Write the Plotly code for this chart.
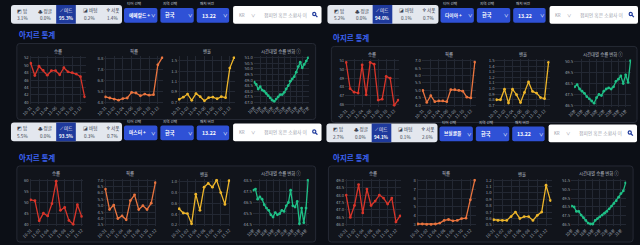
import plotly.graph_objects as go

W, H = 640, 245

# ---------------- data ----------------
dates = ["10-31", "11-01", "11-02", "11-03", "11-04", "11-05", "11-06",
         "11-07", "11-08", "11-09", "11-10", "11-11", "11-12", "11-13"]
minutes = ["10분", "11분", "12분", "13분", "14분", "15분", "16분", "17분", "18분", "19분",
           "20분", "21분", "22분", "23분", "24분", "25분", "26분", "27분", "28분", "29분",
           "30분", "31분", "32분", "33분", "34분", "35분", "36분", "37분"]

roles = ["탑", "정글", "미드", "바텀", "서폿"]
role_icons = ["◩", "♣", "⟋", "◪", "♆"]
chart_titles = ["승률", "픽률", "밴율", "시간대별 승률 변화 ⓘ"]
select_labels = ["티어 선택", "지역 선택", "패치 버전"]
page_title = "아지르 통계"
region = "한국"
patch = "13.22"
server = "KR"
search_placeholder = "챔피언 혹은 소환사 이"

tiers = ["에메랄드 +", "다이아 +", "마스터 +", "브실골플"]
role_shares = [
    ["3.1%", "0.0%", "95.3%", "0.2%", "1.4%"],
    ["5.2%", "0.0%", "94.0%", "0.1%", "0.7%"],
    ["5.5%", "0.0%", "93.5%", "0.3%", "0.7%"],
    ["2.7%", "0.0%", "94.1%", "0.1%", "2.6%"],
]

# panel 1 (emerald+)
p1_win = [50.5, 47.2, 49.7, 48.6, 47.3, 48.5, 48.5, 47.4, 49.3, 48.2, 48.0, 47.6, 46.9, 41.5]
p1_pick = [5.3, 5.2, 5.1, 5.0, 5.15, 5.2, 5.7, 5.65, 5.4, 5.55, 5.45, 5.5, 8.2, 8.85]
p1_ban = [0.76, 0.80, 0.86, 0.74, 0.87, 0.81, 0.73, 0.79, 0.80, 0.77, 0.81, 0.79, 1.36, 1.56]
p1_time = [48.8, 48.6, 48.2, 48.4, 48.1, 48.0, 47.8, 47.6, 47.4, 47.2, 47.1, 47.3, 47.5, 47.7,
           47.7, 47.9, 48.2, 48.5, 48.9, 49.1, 49.3, 49.7, 50.2, 50.6, 50.1, 50.4, 50.7, 51.0]
# panel 2 (diamond+)
p2_win = [50.8, 47.8, 47.4, 47.3, 50.5, 47.1, 50.8, 50.6, 46.5, 46.6, 49.2, 49.0, 45.9, 46.5]
p2_pick = [5.0, 4.2, 4.65, 4.25, 4.3, 4.3, 4.25, 5.05, 5.05, 5.0, 4.95, 4.55, 4.5, 6.9]
p2_ban = [0.8, 0.8, 0.99, 0.74, 0.99, 0.89, 0.75, 0.93, 1.12, 0.95, 0.92, 0.84, 0.82, 1.47]
p2_time = [48.2, 48.4, 48.0, 47.8, 47.6, 47.3, 47.1, 46.9, 46.7, 47.2, 47.5, 47.4, 47.8, 48.0,
           48.1, 48.0, 48.2, 48.7, 48.9, 49.2, 48.5, 49.3, 48.6, 50.6]
# panel 3 (master+)
p3_win = [51.2, 50.8, 41.8, 45.2, 44.0, 49.5, 59.5, 46.5, 47.8, 42.0, 40.3, 49.0, 43.8]
p3_pick = [6.3, 4.7, 5.05, 4.0, 4.2, 3.9, 5.4, 5.85, 4.7, 5.0, 4.7, 5.2, 6.8]
p3_ban = [0.5, 0.42, 0.41, 0.22, 0.77, 0.47, 0.9, 0.97, 0.9, 1.03, 0.8, 0.58, 1.02]
p3_time = [47.6, 47.7, 46.8, 47.0, 46.8, 46.3, 46.0, 45.8, 45.4, 45.2, 45.6, 45.4, 45.5,
           45.8, 45.7, 46.2, 46.5, 47.6, 46.2, 46.1, 46.6, 44.6, 46.0, 44.7, 46.0, 48.5]
# panel 4
p4_win = [48.0, 46.5, 47.3, 48.7, 46.8, 48.4, 47.3, 47.6, 48.0, 47.8, 47.4, 47.8, 46.2, 46.6]
p4_pick = [3.1, 3.1, 3.05, 3.05, 3.1, 3.2, 3.5, 3.6, 3.45, 3.5, 3.7, 3.75, 5.8, 8.0]
p4_ban = [0.58, 0.57, 0.57, 0.57, 0.63, 0.70, 0.60, 0.63, 0.63, 0.57, 0.65, 0.70, 1.12, 0.88]
p4_time = [48.6, 48.5, 48.0, 48.0, 47.6, 47.3, 47.0, 46.7, 46.6, 46.6, 47.0, 47.2, 47.4, 47.6,
           47.8, 48.0, 48.3, 48.6, 48.9, 49.2, 49.6, 50.0, 50.3, 51.2]

series = [
    [p1_win, p1_pick, p1_ban, p1_time],
    [p2_win, p2_pick, p2_ban, p2_time],
    [p3_win, p3_pick, p3_ban, p3_time],
    [p4_win, p4_pick, p4_ban, p4_time],
]
y_ticks = [
    [[40, 42, 44, 46, 48, 50, 52], [4.8, 5.8, 6.8, 7.8, 8.8], [0.7, 0.9, 1.1, 1.3, 1.5],
     [47.0, 47.5, 48.0, 48.5, 49.0, 49.5, 50.0, 50.5, 51.0]],
    [[46, 47, 48, 49, 50, 51], [4.0, 4.5, 5.0, 5.5, 6.0, 6.5, 7.0],
     [0.7, 0.8, 0.9, 1.0, 1.1, 1.2, 1.3, 1.4, 1.5], [46.5, 47.5, 48.5, 49.5, 50.5]],
    [[40, 45, 50, 55, 60], [3.5, 4.0, 4.5, 5.0, 5.5, 6.0, 6.5, 7.0], [0.2, 0.4, 0.6, 0.8, 1.0],
     [44.5, 45.5, 46.5, 47.5, 48.5]],
    [[46.0, 46.5, 47.0, 47.5, 48.0, 48.5, 49.0], [3, 4, 5, 6, 7, 8],
     [0.5, 0.6, 0.7, 0.8, 0.9, 1.0, 1.1, 1.2], [46.5, 47.5, 48.5, 49.5, 50.5, 51.5]],
]

# ---------------- styling / geometry ----------------
BG = "#0c0f16"
CARD = "#11141b"
CARD_LINE = "#262a35"
GRID = "#232833"
TICK = "#9ba1ad"
LINE_COLORS = ["#d8352a", "#e9743f", "#eeb62b", "#1fc087"]
FONT = "Noto Sans CJK KR"

panels = [
    dict(ox=0, hx=0, hy=3, by=0, card=(8, 312),
         plots=[(21, 78), (97, 157), (172, 230), (249, 305)]),
    dict(ox=320, hx=322, hy=3, by=3, card=(8, 319),
         plots=[(22, 77), (100, 155), (175, 230), (255, 313)]),
    dict(ox=0, hx=0, hy=122, by=124, card=(8, 312),
         plots=[(21, 75), (97, 150), (172, 225), (248, 305)]),
    dict(ox=320, hx=321, hy=123, by=124, card=(5, 315),
         plots=[(22, 79), (95, 155), (172, 232), (252, 308)]),
]
yfmt = [["d", ".1f", ".1f", ".1f"], ["d", ".1f", ".1f", ".1f"],
        ["d", ".1f", ".1f", ".1f"], [".1f", "d", ".1f", ".1f"]]


def fx(x):
    return x / W


def fy(y):
    return 1 - y / H


def rrect(x0, y0, x1, y1, r, fill, line=None, lw=0):
    X0, X1 = fx(x0), fx(x1)
    Y0, Y1 = fy(y0), fy(y1)
    rx, ry = r / W, r / H
    path = (f"M {X0+rx},{Y0} L {X1-rx},{Y0} Q {X1},{Y0} {X1},{Y0-ry} "
            f"L {X1},{Y1+ry} Q {X1},{Y1} {X1-rx},{Y1} L {X0+rx},{Y1} "
            f"Q {X0},{Y1} {X0},{Y1+ry} L {X0},{Y0-ry} Q {X0},{Y0} {X0+rx},{Y0} Z")
    return dict(type="path", path=path, xref="paper", yref="paper", fillcolor=fill,
                line=dict(color=line or fill, width=lw), layer="below")


def txt(x, y, s, size, color, anchor="center", bold=False):
    if bold:
        s = f"<b>{s}</b>"
    return dict(x=fx(x), y=fy(y), xref="paper", yref="paper", text=s, showarrow=False,
                xanchor=anchor, yanchor="middle", font=dict(size=size, color=color, family=FONT))


fig = go.Figure()
shapes, annotations = [], []
layout = dict(width=W, height=H, margin=dict(l=0, r=0, t=0, b=0), paper_bgcolor=BG,
              plot_bgcolor="rgba(0,0,0,0)", showlegend=False, font=dict(family=FONT))

ai = 0
for p, pan in enumerate(panels):
    ox, hx, hy, by = pan["ox"], pan["hx"], pan["hy"], pan["by"]

    # ---- header: role box
    shapes.append(rrect(hx + 2, hy, hx + 115, hy + 19, 3, "#e3e7ee"))
    shapes.append(dict(type="rect", xref="paper", yref="paper", x0=fx(hx + 48), x1=fx(hx + 68),
                       y0=fy(hy + 19), y1=fy(hy), fillcolor="#1f3a9c", line=dict(width=0),
                       layer="below"))
    centers = [14, 37, 58, 82, 105]
    for k, role in enumerate(roles):
        col = "#ffffff" if k == 2 else "#3c4352"
        annotations.append(txt(hx + centers[k], hy + 6, f"{role_icons[k]} {role}", 4.6, col))
        annotations.append(txt(hx + centers[k], hy + 13.5, role_shares[p][k], 4.6, col,
                               bold=(k == 2)))

    # ---- header: selects
    dd = [(117, 151), (154, 188), (191, 224)]
    vals = [tiers[p], region, patch]
    for k, (a, b) in enumerate(dd):
        annotations.append(txt(hx + a + 1, hy - 1, select_labels[k], 3.6, "#c9ced8", anchor="left"))
        shapes.append(rrect(hx + a, hy + 3, hx + b, hy + 18, 2, "#2f51d6"))
        annotations.append(txt(hx + a + 3, hy + 10.5, vals[k], 4.7 if k == 0 else 5.2,
                               "#ffffff", anchor="left", bold=True))
        annotations.append(txt(hx + b - 3.5, hy + 10.5, "∨", 4.5, "#ffffff"))

    # ---- header: search
    shapes.append(rrect(hx + 228, hy + 1, min(hx + 318, W), hy + 19, 2, "#ffffff"))
    annotations.append(txt(hx + 232, hy + 10, server, 4.4, "#9aa0aa", anchor="left"))
    annotations.append(txt(hx + 248, hy + 10, "∨", 4.4, "#9aa0aa"))
    annotations.append(txt(hx + 257, hy + 10, search_placeholder, 4.8, "#9aa0aa", anchor="left"))
    cx, cy = hx + 311, hy + 9.5
    shapes.append(dict(type="circle", xref="paper", yref="paper", x0=fx(cx - 2), x1=fx(cx + 1.2),
                       y0=fy(cy + 1.2), y1=fy(cy - 2), line=dict(color="#1f3a9c", width=1.2)))
    shapes.append(dict(type="line", xref="paper", yref="paper", x0=fx(cx + 0.8), x1=fx(cx + 2.8),
                       y0=fy(cy + 0.8), y1=fy(cy + 2.8), line=dict(color="#1f3a9c", width=1.3)))

    # ---- title + card
    annotations.append(txt(ox + 8, by + 33, page_title, 7.5, "#3b62f2", anchor="left", bold=True))
    c0, c1 = pan["card"]
    shapes.append(rrect(ox + c0, by + 42, ox + c1, by + 119, 3, CARD, CARD_LINE, 1))

    for c in range(4):
        ai += 1
        sfx = "" if ai == 1 else str(ai)
        data = series[p][c]
        n = len(data)
        if c < 3:
            xs = dates[:n]
            tv = dates[:n:2]
        else:
            xs = minutes[:n]
            tv = minutes[:n:3]
        col = LINE_COLORS[c]
        fig.add_trace(go.Scatter(x=xs, y=data, mode="lines+markers",
                                 line=dict(color=col, width=1.3),
                                 marker=dict(size=2.8, color=col),
                                 xaxis="x" + sfx, yaxis="y" + sfx, hoverinfo="skip"))
        a, b = pan["plots"][c]
        x0, x1 = ox + a, ox + b
        y0, y1 = by + 55, by + 103
        ticks = y_ticks[p][c]
        lo, hi = min(ticks + data), max(ticks + data)
        pad = (hi - lo) * 0.03
        layout["xaxis" + sfx] = dict(domain=[fx(x0), fx(x1)], anchor="y" + sfx, type="category",
                                     range=[-0.25, n - 0.75], tickvals=tv, tickangle=-45,
                                     tickfont=dict(size=4.2, color=TICK), showgrid=True,
                                     gridcolor=GRID, gridwidth=0.6, zeroline=False,
                                     showline=False, ticks="", fixedrange=True)
        layout["yaxis" + sfx] = dict(domain=[fy(y1), fy(y0)], anchor="x" + sfx,
                                     range=[lo - pad, hi + pad], tickvals=ticks,
                                     tickformat=yfmt[p][c],
                                     tickfont=dict(size=4.2, color=TICK), showgrid=True,
                                     gridcolor=GRID, gridwidth=0.6, zeroline=False,
                                     showline=False, ticks="", fixedrange=True)
        annotations.append(txt((x0 + x1) / 2, by + 50, chart_titles[c], 4.4, "#b7bcc7"))

layout["shapes"] = shapes
layout["annotations"] = annotations
fig.update_layout(**layout)
fig.write_html("out.html")
